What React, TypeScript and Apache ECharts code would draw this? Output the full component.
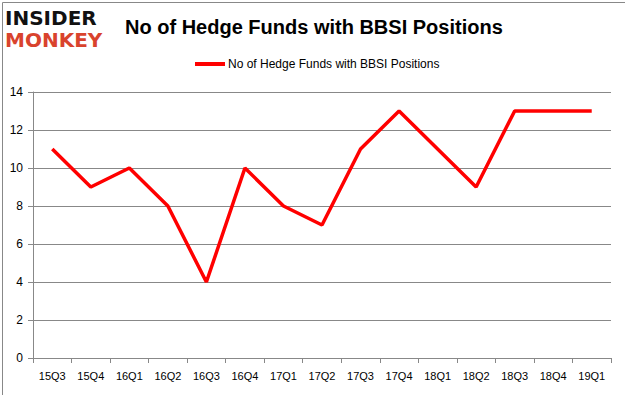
import React, { useEffect, useRef } from "react";
import * as echarts from "echarts";

const categories = ["15Q3","15Q4","16Q1","16Q2","16Q3","16Q4","17Q1","17Q2","17Q3","17Q4","18Q1","18Q2","18Q3","18Q4","19Q1"];
const values = [11, 9, 10, 8, 4, 10, 8, 7, 11, 13, 11, 9, 13, 13, 13];
const seriesName = "No of Hedge Funds with BBSI Positions";
const titleText = "No of Hedge Funds with BBSI Positions";

export default function App() {
  const ref = useRef<HTMLDivElement>(null);
  useEffect(() => {
    const chart = echarts.init(ref.current!, null, { renderer: "svg" });
    const font = "Liberation Sans";
    chart.setOption({
      animation: false,
      backgroundColor: "#fff",
      textStyle: { fontFamily: font },
      title: {
        text: titleText,
        left: 120,
        top: 12,
        textStyle: { fontSize: 20, fontWeight: "bold", color: "#000", fontFamily: font },
      },
      legend: {
        data: [seriesName],
        top: 53,
        left: 190,
        itemWidth: 30,
        itemHeight: 4,
        itemGap: 4,
        icon: "rect",
        textStyle: { fontSize: 12, color: "#000", fontFamily: font, padding: [0, 0, 0, -2] },
      },
      graphic: [
        { type: "rect", left: 0, top: 0, shape: { x: 0.5, y: 0.5, width: 623, height: 393 }, style: { fill: "none", stroke: "#888", lineWidth: 1 } },
        { type: "text", left: 5, top: 8, style: { text: "INSIDER", fontSize: 20, lineHeight: 20, fontWeight: "bold", fill: "#111", fontFamily: "DejaVu Sans" } },
        { type: "text", left: 5, top: 30, style: { text: "MONKEY", fontSize: 20, lineHeight: 20, fontWeight: "bold", fill: "#d9432d", fontFamily: "DejaVu Sans" } },
      ],
      grid: { left: 33, right: 14, top: 92, bottom: 37 },
      xAxis: {
        type: "category",
        data: categories,
        boundaryGap: true,
        axisLine: { lineStyle: { color: "#888" } },
        axisTick: { show: true, length: 5, lineStyle: { color: "#888" } },
        axisLabel: { color: "#000", fontSize: 11, margin: 12, fontFamily: font },
      },
      yAxis: {
        type: "value",
        min: 0,
        max: 14,
        interval: 2,
        axisLine: { show: true, lineStyle: { color: "#888" } },
        axisTick: { show: true, length: 5, lineStyle: { color: "#888" } },
        axisLabel: { color: "#000", fontSize: 12, margin: 10, fontFamily: font },
        splitLine: { lineStyle: { color: "#888" } },
      },
      series: [
        {
          name: seriesName,
          type: "line",
          data: values,
          symbol: "none",
          lineStyle: { color: "#ff0000", width: 3.5 },
          itemStyle: { color: "#ff0000" },
        },
      ],
    });
    return () => chart.dispose();
  }, []);
  return <div ref={ref} style={{ width: 625, height: 395, position: "absolute", left: 0, top: 0 }} />;
}
